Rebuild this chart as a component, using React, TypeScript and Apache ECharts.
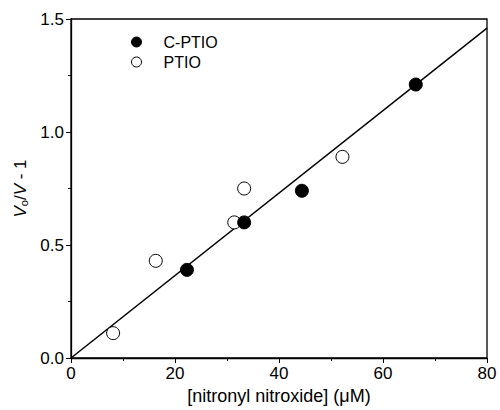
import React, { useEffect, useRef } from "react";
import * as echarts from "echarts";

const cptioX = [22.3, 33.3, 44.4, 66.3];
const cptioY = [0.39, 0.6, 0.74, 1.21];
const ptioX = [8.1, 16.3, 31.4, 33.3, 52.2];
const ptioY = [0.11, 0.43, 0.6, 0.75, 0.89];
const fitX = [0, 80];
const fitY = [0, 1.46];
const xTicks = [0, 20, 40, 60, 80];
const yTicks = [0, 0.5, 1.0, 1.5];

const FONT = "'Liberation Sans', Arial, sans-serif";

export default function App() {
  const ref = useRef<HTMLDivElement>(null);
  useEffect(() => {
    const chart = echarts.init(ref.current!, undefined, { renderer: "svg" });
    chart.setOption({
      animation: false,
      backgroundColor: "#fff",
      textStyle: { fontFamily: FONT, color: "#000" },
      grid: { left: 71, right: 13, top: 19, bottom: 52, show: true, borderColor: "#000", borderWidth: 1.3 },
      legend: {
        left: 126,
        top: 29,
        orient: "vertical",
        itemGap: 4,
        itemWidth: 10,
        itemHeight: 10,
        textStyle: { fontFamily: FONT, fontSize: 16, color: "#000", padding: [0, 0, 0, 17] },
        data: [
          { name: "C-PTIO", icon: "circle", itemStyle: { color: "#000", borderColor: "#000", borderWidth: 1 } },
          { name: "PTIO", icon: "circle", itemStyle: { color: "#fff", borderColor: "#000", borderWidth: 1 } },
        ],
      },
      xAxis: {
        type: "value",
        min: xTicks[0],
        max: xTicks[xTicks.length - 1],
        interval: 20,
        name: "[nitronyl nitroxide] (\u03bcM)",
        nameLocation: "middle",
        nameGap: 24,
        nameTextStyle: { fontFamily: FONT, fontSize: 18, color: "#000" },
        axisLine: { onZero: false, lineStyle: { color: "#000", width: 1.3 } },
        axisTick: { inside: false, length: 5, lineStyle: { color: "#000" } },
        minorTick: { show: true, splitNumber: 2, length: 3, lineStyle: { color: "#000" } },
        axisLabel: { fontFamily: FONT, fontSize: 17, color: "#000", margin: 7 },
        splitLine: { show: false },
      },
      yAxis: {
        type: "value",
        min: yTicks[0],
        max: yTicks[yTicks.length - 1],
        interval: 0.5,
        name: "{i|V}{s|o}{n|/}{i|V}{n| - 1}",
        nameLocation: "middle",
        nameGap: 40,
        nameTextStyle: {
          fontFamily: FONT,
          fontSize: 17,
          color: "#000",
          rich: {
            i: { fontStyle: "italic", fontSize: 17, fontFamily: FONT, color: "#000" },
            s: { fontSize: 11, fontFamily: FONT, color: "#000", verticalAlign: "bottom", padding: [7, 0, 0, 0] },
            n: { fontSize: 17, fontFamily: FONT, color: "#000" },
          },
        },
        axisLine: { onZero: false, lineStyle: { color: "#000", width: 1.3 } },
        axisTick: { inside: false, length: 5, lineStyle: { color: "#000" } },
        minorTick: { show: true, splitNumber: 2, length: 3, lineStyle: { color: "#000" } },
        axisLabel: {
          fontFamily: FONT,
          fontSize: 17,
          color: "#000",
          margin: 7,
          formatter: (v: number) => v.toFixed(1),
        },
        splitLine: { show: false },
      },
      series: [
        {
          name: "fit",
          type: "line",
          data: fitX.map((x, i) => [x, fitY[i]]),
          symbol: "none",
          lineStyle: { color: "#000", width: 1.5 },
          z: 1,
        },
        {
          name: "C-PTIO",
          type: "scatter",
          data: cptioX.map((x, i) => [x, cptioY[i]]),
          symbol: "circle",
          symbolSize: 13,
          itemStyle: { color: "#000", borderColor: "#000", borderWidth: 1, opacity: 1 },
          z: 3,
        },
        {
          name: "PTIO",
          type: "scatter",
          data: ptioX.map((x, i) => [x, ptioY[i]]),
          symbol: "circle",
          symbolSize: 13,
          itemStyle: { color: "#fff", borderColor: "#000", borderWidth: 1, opacity: 1 },
          z: 2,
        },
      ],
    });
    return () => chart.dispose();
  }, []);
  return <div ref={ref} style={{ width: 500, height: 410, position: "absolute", left: 0, top: 0 }} />;
}
